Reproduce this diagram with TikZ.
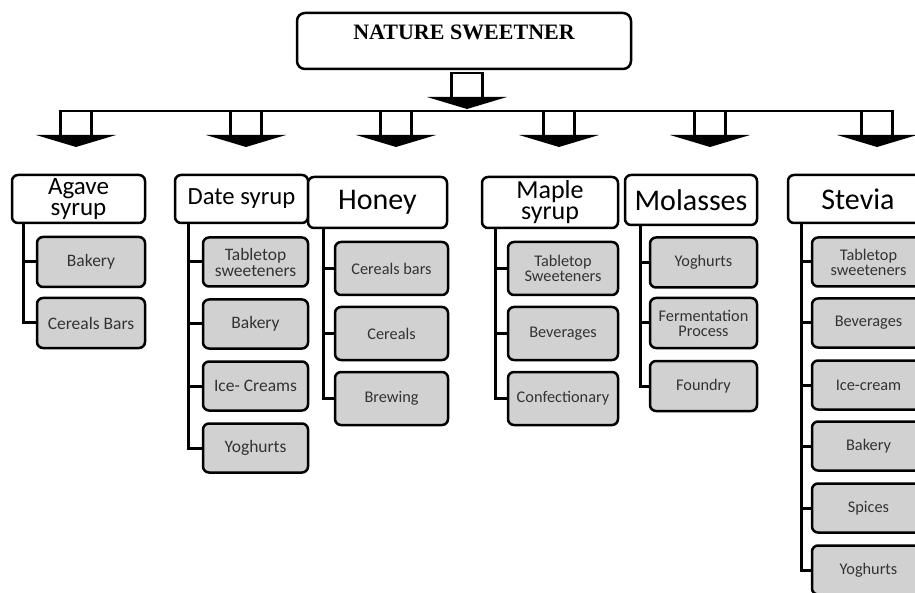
\documentclass[tikz,border=0pt]{standalone}
\usepackage{fontspec}
\setmainfont{Liberation Serif}
\newfontfamily\calibri{Carlito}
\tikzset{
  titlebox/.style={draw, line width=2.5pt, rounded corners=8pt, inner sep=0pt, font=\bfseries\fontsize{22}{24}\selectfont},
  catbox/.style={draw, line width=2.5pt, rounded corners=6pt, fill=white, align=center, inner sep=0pt},
  usebox/.style={draw, line width=2.5pt, rounded corners=6pt, fill=black!18, align=center, inner sep=0pt, text=black!80, minimum width=#1},
  smallfont/.style={font=\calibri\fontsize{16.3}{15}\selectfont},
  midfont/.style={font=\calibri\fontsize{17.5}{16}\selectfont},
  branch/.style={line width=3pt},
  downarr/.pic={
    \coordinate (-top) at (0,0);
    \draw[line width=2.5pt, fill=white] (-15.5,24) -- (-15.5,0) -- (15.5,0) -- (15.5,24);
    \fill (-40,24) -- (40,24) -- (0,36) -- cycle;
  }
}
\begin{document}
\begin{tikzpicture}[x=1pt, y=-1pt]
    \useasboundingbox (0,0) rectangle (915,593);
    \clip (0,0) rectangle (915,593);

    % top
    \node[titlebox, minimum width=334, text height=26.6pt, text depth=29.4pt] (title) at (464,41) {NATURE SWEETNER};
    \pic (tarr) at (467,73) {downarr};
    \foreach \x [count=\i] in {76,246,396,559,710,877}
        \pic (arr\i) at (\x,111) {downarr};
    \draw[line width=1.5pt] (arr1-top) -- (arr6-top);

    % sweeteners
    \node[catbox, minimum width=133, minimum height=48, font=\calibri\fontsize{25}{21}\selectfont] (agave) at (78.5,199) {Agave\\syrup};
    \node[catbox, minimum width=133, minimum height=48, font=\calibri\fontsize{24.7}{21}\selectfont] (date) at (241.5,199) {Date syrup};
    \node[catbox, minimum width=139, minimum height=51, font=\calibri\fontsize{30}{26}\selectfont] (honey) at (377.5,202.5) {Honey};
    \node[catbox, minimum width=136, minimum height=51, font=\calibri\fontsize{26}{21}\selectfont] (maple) at (550,202.5) {Maple\\syrup};
    \node[catbox, minimum width=132, minimum height=50, font=\calibri\fontsize{30}{26}\selectfont] (molasses) at (691,200) {Molasses};
    \node[catbox, minimum width=140, minimum height=48, font=\calibri\fontsize{30}{26}\selectfont] (stevia) at (858,199) {Stevia};

    % uses
    \node[usebox=108, minimum height=50, midfont] (agave1) at (91,262) {Bakery};
    \node[usebox=108, minimum height=50, midfont] (agave2) at (91,323) {Cereals Bars};

    \node[usebox=105, minimum height=49, midfont] (date1) at (255.5,262) {Tabletop\\sweeteners};
    \node[usebox=105, minimum height=49, midfont] (date2) at (255.5,324) {Bakery};
    \node[usebox=105, minimum height=49, midfont] (date3) at (255.5,386) {Ice- Creams};
    \node[usebox=105, minimum height=49, midfont] (date4) at (255.5,448) {Yoghurts};

    \node[usebox=113, minimum height=53, smallfont] (honey1) at (391.5,268.5) {Cereals bars};
    \node[usebox=113, minimum height=53, smallfont] (honey2) at (391.5,333.5) {Cereals};
    \node[usebox=113, minimum height=53, smallfont] (honey3) at (391.5,398.5) {Brewing};

    \node[usebox=110, minimum height=53, smallfont] (maple1) at (563,268.5) {Tabletop\\Sweeteners};
    \node[usebox=110, minimum height=53, smallfont] (maple2) at (563,333.5) {Beverages};
    \node[usebox=110, minimum height=53, smallfont] (maple3) at (563,398.5) {Confectionary};

    \node[usebox=107, minimum height=50, smallfont] (molasses1) at (703.5,262.5) {Yoghurts};
    \node[usebox=107, minimum height=50, smallfont] (molasses2) at (703.5,323) {Fermentation\\Process};
    \node[usebox=107, minimum height=50, smallfont] (molasses3) at (703.5,386) {Foundry};

    \node[usebox=113, minimum height=49, smallfont] (stevia1) at (868.5,262) {Tabletop\\sweeteners};
    \node[usebox=113, minimum height=49, smallfont] (stevia2) at (868.5,323) {Beverages};
    \node[usebox=113, minimum height=49, smallfont] (stevia3) at (868.5,385) {Ice-cream};
    \node[usebox=113, minimum height=49, smallfont] (stevia4) at (868.5,446) {Bakery};
    \node[usebox=113, minimum height=49, smallfont] (stevia5) at (868.5,508) {Spices};
    \node[usebox=113, minimum height=49, smallfont] (stevia6) at (868.5,570) {Yoghurts};

    % branches
    \foreach \i in {1,2}
        \draw[branch] ([xshift=13]agave.south west) |- (agave\i.west);
    \foreach \i in {1,...,4}
        \draw[branch] ([xshift=15]date.south west) |- (date\i.west);
    \foreach \i in {1,2,3}
        \draw[branch] ([xshift=17]honey.south west) |- (honey\i.west);
    \foreach \i in {1,2,3}
        \draw[branch] ([xshift=15]maple.south west) |- (maple\i.west);
    \foreach \i in {1,2,3}
        \draw[branch] ([xshift=17]molasses.south west) |- (molasses\i.west);
    \foreach \i in {1,...,6}
        \draw[branch] ([xshift=15]stevia.south west) |- (stevia\i.west);
\end{tikzpicture}
\end{document}
